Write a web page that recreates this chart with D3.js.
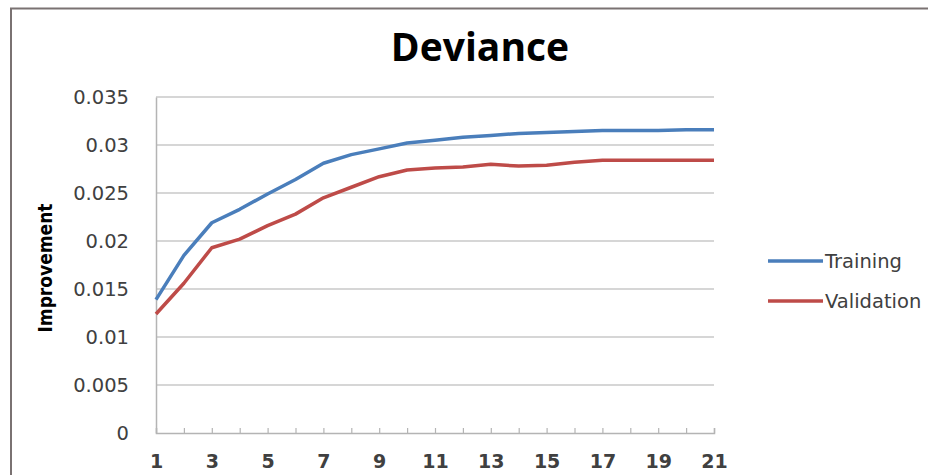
<!DOCTYPE html>
<html lang="en">
<head>
    <meta charset="UTF-8">
    <title>Deviance</title>
    <style>
        body {
            margin: 0;
            padding: 0;
            background: #ffffff;
        }
        svg {
            display: block;
        }
    </style>
</head>
<body>

<div id="chart"></div>

<script src="https://d3js.org/d3.v7.min.js"></script>

<script>
  // Chart data
  const iterations = d3.range(1, 22);
  const training = [0.0139, 0.0185, 0.0219, 0.0233, 0.0249, 0.0264, 0.0281, 0.0290, 0.0296, 0.0302,
                    0.0305, 0.0308, 0.0310, 0.0312, 0.0313, 0.0314, 0.0315, 0.0315, 0.0315, 0.0316, 0.0316];
  const validation = [0.0124, 0.0156, 0.0193, 0.0202, 0.0216, 0.0228, 0.0245, 0.0256, 0.0267, 0.0274,
                      0.0276, 0.0277, 0.0280, 0.0278, 0.0279, 0.0282, 0.0284, 0.0284, 0.0284, 0.0284, 0.0284];
  const yTicks = [0, 0.005, 0.01, 0.015, 0.02, 0.025, 0.03, 0.035];
  const xLabels = [1, 3, 5, 7, 9, 11, 13, 15, 17, 19, 21];
  const seriesNames = ["Training", "Validation"];
  const seriesColors = ["#4a7ebb", "#be4b48"];

  const width = 928, height = 475;
  const plot = { left: 156, right: 714, top: 97, bottom: 433 };

  const svg = d3.select("#chart").append("svg")
    .attr("width", width)
    .attr("height", height);

  // outer frame of the chart (cut off on right and bottom)
  svg.append("path")
    .attr("d", `M11,${height} V8.5 H${width}`)
    .attr("fill", "none")
    .attr("stroke", "#7a7272")
    .attr("stroke-width", 2);

  const x = d3.scaleLinear().domain([1, 21]).range([plot.left, plot.right]);
  const y = d3.scaleLinear().domain([0, 0.035]).range([plot.bottom, plot.top]);

  // gridlines
  svg.append("g")
    .selectAll("line")
    .data(yTicks.filter(d => d > 0))
    .enter().append("line")
    .attr("x1", plot.left)
    .attr("x2", plot.right)
    .attr("y1", d => y(d))
    .attr("y2", d => y(d))
    .attr("stroke", "#c8c8c8")
    .attr("stroke-width", 1.5);

  // y axis
  const yAxis = svg.append("g")
    .attr("transform", `translate(${plot.left},0)`)
    .call(d3.axisLeft(y).tickValues(yTicks).tickSize(0).tickPadding(27)
      .tickFormat(d => d === 0 ? "0" : String(+d.toFixed(3))));
  yAxis.select(".domain").attr("stroke", "#b4b4b4").attr("stroke-width", 1.5);
  yAxis.selectAll("text")
    .attr("font-family", "'DejaVu Sans', sans-serif")
    .attr("font-size", 19.5)
    .attr("fill", "#404040");

  // x axis
  const xAxis = svg.append("g")
    .attr("transform", `translate(0,${plot.bottom})`)
    .call(d3.axisBottom(x).tickValues(iterations).tickSize(-5).tickPadding(22)
      .tickFormat(d => xLabels.includes(d) ? d : ""));
  xAxis.select(".domain").attr("stroke", "#b4b4b4").attr("stroke-width", 1.5);
  xAxis.selectAll(".tick line").attr("stroke", "#b4b4b4").attr("stroke-width", 1.2);
  xAxis.selectAll("text")
    .attr("font-family", "'DejaVu Sans', sans-serif")
    .attr("font-weight", "bold")
    .attr("font-size", 19)
    .attr("fill", "#404040");

  // lines
  const line = d3.line()
    .x((d, i) => x(iterations[i]))
    .y(d => y(d));

  [training, validation].forEach((series, i) => {
    svg.append("path")
      .datum(series)
      .attr("d", line)
      .attr("fill", "none")
      .attr("stroke", seriesColors[i])
      .attr("stroke-width", 3.5)
      .attr("stroke-linejoin", "round");
  });

  // title
  svg.append("text")
    .attr("x", 480)
    .attr("y", 61)
    .attr("text-anchor", "middle")
    .attr("font-family", "'Open Sans', sans-serif")
    .attr("font-weight", "bold")
    .attr("font-size", 39)
    .attr("fill", "#000")
    .text("Deviance");

  // y axis title
  svg.append("text")
    .attr("transform", "translate(52,268) rotate(-90)")
    .attr("text-anchor", "middle")
    .attr("font-family", "'DejaVu Sans Condensed', 'DejaVu Sans', sans-serif")
    .attr("font-weight", "bold")
    .attr("font-size", 19)
    .attr("fill", "#000")
    .text("Improvement");

  // legend
  const legend = svg.append("g");
  seriesNames.forEach((name, i) => {
    const ly = 261 + i * 40;
    legend.append("line")
      .attr("x1", 768).attr("x2", 823)
      .attr("y1", ly).attr("y2", ly)
      .attr("stroke", seriesColors[i])
      .attr("stroke-width", 3.5);
    legend.append("text")
      .attr("x", 825)
      .attr("y", ly + 7)
      .attr("font-family", "'DejaVu Sans', sans-serif")
      .attr("font-size", 19.5)
      .attr("fill", "#404040")
      .text(name);
  });
</script>

</body>
</html>
